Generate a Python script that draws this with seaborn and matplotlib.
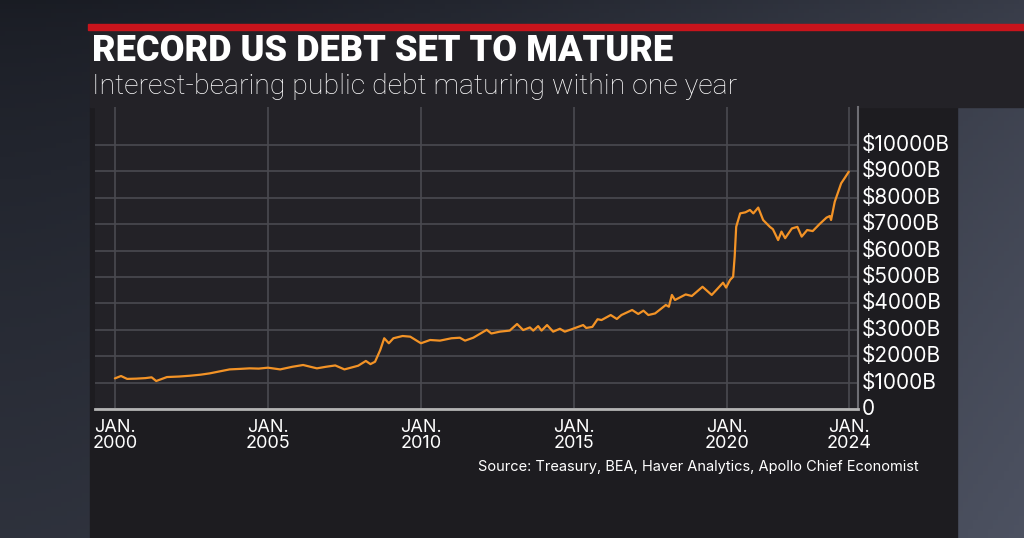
import numpy as np
import pandas as pd
import matplotlib.pyplot as plt
import seaborn as sns
from matplotlib.patches import Rectangle

# debt maturing within one year, $B
years = [2000.00, 2000.20, 2000.40, 2000.70, 2001.00, 2001.20, 2001.35, 2001.70,
         2002.10, 2002.45, 2002.80, 2003.10, 2003.40, 2003.75, 2004.10, 2004.40,
         2004.70, 2005.00, 2005.40, 2005.80, 2006.15, 2006.60, 2006.90, 2007.20,
         2007.50, 2007.95, 2008.20, 2008.35, 2008.50, 2008.67, 2008.80, 2008.95,
         2009.10, 2009.40, 2009.65, 2010.00, 2010.30, 2010.62, 2011.00, 2011.27,
         2011.44, 2011.71, 2012.15, 2012.30, 2012.58, 2012.90, 2013.14, 2013.34,
         2013.56, 2013.67, 2013.83, 2013.94, 2014.12, 2014.32, 2014.54, 2014.70,
         2014.92, 2015.30, 2015.40, 2015.60, 2015.77, 2015.90, 2016.20, 2016.40,
         2016.55, 2016.90, 2017.10, 2017.27, 2017.43, 2017.65, 2018.00, 2018.10,
         2018.20, 2018.30, 2018.65, 2018.85, 2019.20, 2019.50, 2019.70, 2019.87,
         2019.97, 2020.10, 2020.20, 2020.25, 2020.30, 2020.43, 2020.60, 2020.75,
         2020.86, 2021.02, 2021.18, 2021.40, 2021.50, 2021.67, 2021.78, 2021.90,
         2022.12, 2022.30, 2022.44, 2022.62, 2022.80, 2023.02, 2023.25, 2023.36,
         2023.40, 2023.52, 2023.73, 2023.84, 2023.98]
debt = [1160, 1250, 1140, 1150, 1170, 1200, 1060, 1210,
        1230, 1260, 1300, 1350, 1420, 1500, 1520, 1540,
        1530, 1565, 1500, 1600, 1667, 1540, 1600, 1650,
        1500, 1640, 1820, 1700, 1790, 2235, 2680, 2490,
        2680, 2765, 2740, 2490, 2614, 2590, 2680, 2700,
        2590, 2700, 3000, 2860, 2930, 2970, 3220, 2990,
        3090, 2970, 3140, 2970, 3180, 2930, 3040, 2930,
        3020, 3180, 3070, 3110, 3400, 3370, 3560, 3410,
        3560, 3750, 3600, 3725, 3560, 3620, 3940, 3875,
        4320, 4130, 4340, 4280, 4630, 4320, 4570, 4785,
        4600, 4890, 5010, 5770, 6900, 7410, 7450, 7540,
        7410, 7630, 7160, 6900, 6810, 6400, 6720, 6470,
        6840, 6900, 6530, 6780, 6740, 7000, 7250, 7310,
        7160, 7850, 8550, 8740, 8990]

tick_years = [2000, 2005, 2010, 2015, 2020, 2024]
tick_labels = ["JAN.\n" + str(y) for y in tick_years]
y_ticks = list(range(0, 11000, 1000))
y_labels = ["0"] + [f"${v}B" for v in y_ticks[1:]]

df = pd.DataFrame({"year": years, "debt": debt})

sns.set_theme(style="dark")
plt.rcParams["font.family"] = ["Inter", "DejaVu Sans"]

W, H = 1024, 538
fig = plt.figure(figsize=(W / 100, H / 100), dpi=100, facecolor="#2f333e")

# studio backdrop: dark at the top, lighter blue-grey towards the lower right
bg = fig.add_axes([0, 0, 1, 1], zorder=-1)
gx = np.linspace(0, 1, 200)
gy = np.linspace(0, 1, 120)
shade = 0.6 * gx[None, :] ** 1.5 + 0.4 * (1 - gy[:, None]) ** 0.7
base = np.array([0.10, 0.11, 0.14])
light = np.array([0.30, 0.32, 0.38])
img = base + shade[..., None] * (light - base)
bg.imshow(np.clip(img, 0, 1), aspect="auto", extent=[0, 1, 0, 1], origin="lower")
bg.axis("off")

# backdrop panels
fig.patches.append(Rectangle((90 / W, 0), (957 - 90) / W, (H - 107) / H,
                             transform=fig.transFigure, color="#1d1c20", zorder=0))
fig.patches.append(Rectangle((90 / W, (H - 107) / H), (W - 90) / W, 77 / H,
                             transform=fig.transFigure, color="#232227", zorder=0))
fig.patches.append(Rectangle((88 / W, (H - 30) / H), (W - 88) / W, 6 / H,
                             transform=fig.transFigure, color="#c8141c", zorder=1))

ax = fig.add_axes([95 / W, (H - 409) / H, (858 - 95) / W, (409 - 107) / H])
ax.set_zorder(3)
ax.set_facecolor("#232227")

sns.lineplot(data=df, x="year", y="debt", ax=ax, color="#f39326", linewidth=1.6)

ax.set_xlim(1999.35, 2024.28)
ax.set_ylim(0, 11440)
ax.set_xticks(tick_years)
ax.set_xticklabels(tick_labels, linespacing=0.95)
ax.set_yticks(y_ticks)
ax.set_yticklabels(y_labels)
ax.yaxis.tick_right()
ax.tick_params(axis="y", colors="white", labelsize=15, length=0, pad=3)
ax.tick_params(axis="x", colors="white", labelsize=13, length=0, pad=7)
for lab in ax.get_yticklabels():
    lab.set_verticalalignment("center")
ax.set_xlabel("")
ax.set_ylabel("")
ax.grid(True, color="#4a4a50", linewidth=1.2)

for side in ["top", "left"]:
    ax.spines[side].set_visible(False)
ax.spines["bottom"].set_color("#b4b4b4")
ax.spines["bottom"].set_linewidth(2)
ax.spines["right"].set_color("#6e6e74")
ax.spines["right"].set_linewidth(1.5)

fig.text(92 / W, 1 - 51 / H, "RECORD US DEBT SET TO MATURE", color="white",
         fontsize=26, fontweight="black", family=["Roboto", "DejaVu Sans"], va="center")
fig.text(92 / W, 1 - 86 / H, "Interest-bearing public debt maturing within one year",
         color="white", fontsize=20.5, fontweight="light", family=["Roboto", "DejaVu Sans"],
         va="center")
fig.text(919 / W, 1 - 467 / H,
         "Source: Treasury, BEA, Haver Analytics, Apollo Chief Economist",
         color="white", fontsize=10.5, ha="right", va="center")

fig.savefig("out.png", dpi=100, facecolor=fig.get_facecolor())
